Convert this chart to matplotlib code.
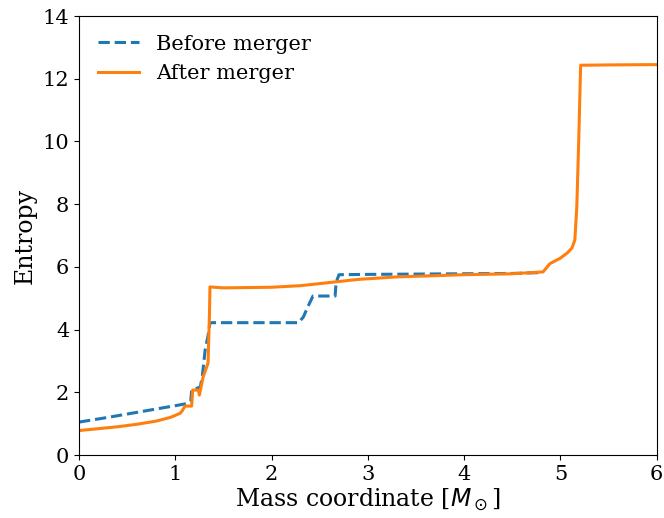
import matplotlib
matplotlib.use("Agg")
import matplotlib.pyplot as plt

plt.rcParams['font.family'] = ['DejaVu Serif']
plt.rcParams['mathtext.fontset'] = 'dejavusans'

before_x = [0.0, 0.3, 0.6, 0.9, 1.05, 1.1, 1.16, 1.17, 1.2, 1.26, 1.28, 1.31, 1.34, 1.36, 1.8, 2.28, 2.33, 2.38, 2.43, 2.66, 2.67, 2.7, 3.0, 3.5, 4.0, 4.5, 4.82]
before_y = [1.05, 1.2, 1.36, 1.52, 1.6, 1.63, 1.7, 2.07, 2.1, 2.17, 2.5, 3.35, 3.8, 4.22, 4.22, 4.22, 4.4, 4.75, 5.07, 5.07, 5.5, 5.75, 5.76, 5.77, 5.78, 5.79, 5.82]

after_x = [0.0, 0.2, 0.4, 0.6, 0.8, 0.95, 1.05, 1.07, 1.1, 1.17, 1.18, 1.24, 1.25, 1.29, 1.34, 1.355, 1.36, 1.5, 2.0, 2.3, 2.6, 2.9, 3.3, 4.0, 4.5, 4.82, 4.89, 5.0, 5.07, 5.12, 5.15, 5.17, 5.19, 5.21, 5.5, 6.0]
after_y = [0.78, 0.84, 0.9, 0.98, 1.08, 1.2, 1.33, 1.4, 1.56, 1.56, 2.07, 2.07, 1.91, 2.5, 2.93, 4.5, 5.36, 5.33, 5.35, 5.4, 5.5, 5.6, 5.68, 5.75, 5.78, 5.84, 6.1, 6.28, 6.44, 6.6, 6.86, 7.9, 10.0, 12.43, 12.44, 12.45]

fig = plt.figure(figsize=(6.64, 5.18), dpi=100)
ax = fig.add_axes([0.119, 0.1216, 0.870, 0.8475])
ax.plot(before_x, before_y, '--', color='#1f77b4', lw=2.2, label='Before merger')
ax.plot(after_x, after_y, '-', color='#ff7f0e', lw=2.2, label='After merger')
ax.set_xlim(0, 6)
ax.set_ylim(0, 14)
ax.set_xticks(range(0, 7))
ax.set_yticks(range(0, 15, 2))
ax.tick_params(labelsize=15)
ax.set_xlabel(r'Mass coordinate [$M_\odot$]', fontsize=17, labelpad=2)
ax.set_ylabel('Entropy', fontsize=17)
ax.legend(loc='upper left', frameon=False, fontsize=15)
fig.savefig('out.png', dpi=100)
